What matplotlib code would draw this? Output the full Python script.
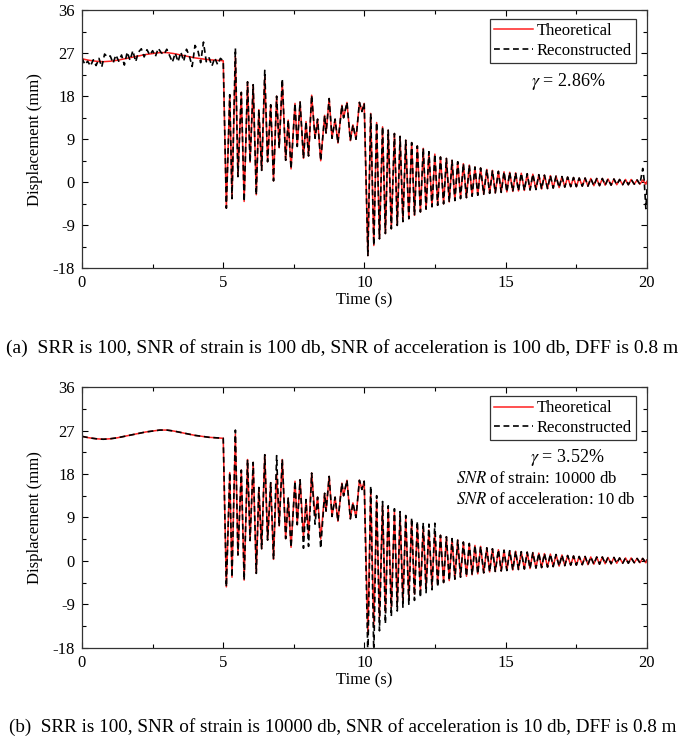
import numpy as np
import matplotlib
matplotlib.use("Agg")
import matplotlib.pyplot as plt

plt.rcParams['font.family'] = ['Liberation Serif', 'DejaVu Serif']
plt.rcParams['mathtext.fontset'] = 'stix'
plt.rcParams['axes.unicode_minus'] = False

# ---- theoretical displacement (same in both cases) ----
# quasi-static part 0-5 s
t_static = [0.00, 0.25, 0.50, 0.75, 1.00, 1.25, 1.50, 1.75, 2.00, 2.25, 2.50,
            2.75, 3.00, 3.25, 3.50, 3.75, 4.00, 4.25, 4.50, 4.75]
d_static = [25.8, 25.5, 25.3, 25.2, 25.3, 25.5, 25.8, 26.1, 26.4, 26.7, 26.9,
            27.1, 27.1, 26.9, 26.6, 26.3, 26.0, 25.8, 25.6, 25.5]

# forced vibration part 5-10 s (peaks / troughs)
t_forced = [5.00, 5.11, 5.23, 5.31, 5.43, 5.52, 5.64, 5.74, 5.86, 5.95,
            6.06, 6.17, 6.26, 6.36, 6.47, 6.57, 6.68, 6.78, 6.89, 6.98,
            7.09, 7.21, 7.30, 7.40, 7.54, 7.62, 7.72, 7.84, 7.93, 8.02,
            8.13, 8.25, 8.34, 8.45, 8.59, 8.64, 8.75, 8.85, 8.96, 9.06,
            9.20, 9.26, 9.38, 9.50, 9.59, 9.70, 9.82, 9.91, 9.99]
d_forced = [25.4, -5.4, 18.3, -3.4, 26.3, 1.2, 18.8, -4.0, 21.0, 4.2,
            20.4, -2.6, 15.2, 2.5, 22.0, 4.3, 16.2, 0.3, 18.0, 7.2,
            21.0, 4.6, 13.0, 2.8, 16.5, 7.5, 16.8, 5.0, 12.7, 5.5,
            18.2, 9.2, 13.2, 4.5, 14.0, 10.3, 17.5, 9.2, 13.2, 8.2,
            16.1, 13.5, 16.7, 8.7, 12.0, 9.0, 16.7, 14.8, 16.5]

# free vibration part 10-20 s (peaks / troughs)
t_free = [10.12, 10.22, 10.33, 10.43, 10.53, 10.64, 10.74, 10.84, 10.95, 11.06,
          11.16, 11.26, 11.36, 11.46, 11.57, 11.67, 11.77, 11.87, 11.98, 12.08,
          12.18, 12.28, 12.39, 12.49, 12.59, 12.69, 12.80, 12.90, 13.00, 13.10,
          13.20, 13.30, 13.40, 13.50, 13.61, 13.71, 13.81, 13.91, 14.01, 14.11,
          14.22, 14.33, 14.43, 14.53, 14.63, 14.74, 14.84, 14.94, 15.04, 15.14,
          15.25, 15.35, 15.45, 15.55, 15.66, 15.76, 15.86, 15.96, 16.07, 16.17,
          16.27, 16.37, 16.48, 16.58, 16.68, 16.78, 16.89, 16.99, 17.09, 17.19,
          17.30, 17.40, 17.50, 17.60, 17.71, 17.81, 17.91, 18.01, 18.12, 18.22,
          18.32, 18.42, 18.52, 18.62, 18.73, 18.83, 18.93, 19.03, 19.14, 19.24,
          19.34, 19.44, 19.55, 19.65, 19.75, 19.85, 19.96, 20.00]
d_free = [-15.3, 14.4, -13.2, 12.5, -11.8, 11.6, -10.7, 10.9, -9.7, 10.2,
          -9.0, 9.6, -8.2, 8.8, -7.6, 8.3, -6.9, 7.6, -6.2, 7.1,
          -5.6, 6.4, -5.1, 5.9, -4.8, 5.3, -4.5, 5.0, -4.1, 4.6,
          -3.8, 4.3, -3.4, 3.9, -3.2, 3.6, -2.9, 3.2, -2.7, 3.0,
          -2.5, 2.7, -2.3, 2.5, -2.2, 2.3, -2.1, 2.2, -2.0, 2.1,
          -1.9, 2.0, -1.8, 1.9, -1.7, 1.8, -1.6, 1.7, -1.5, 1.6,
          -1.4, 1.5, -1.3, 1.4, -1.2, 1.3, -1.1, 1.2, -1.0, 1.1,
          -0.9, 1.0, -0.9, 0.9, -0.8, 0.9, -0.8, 0.8, -0.7, 0.8,
          -0.7, 0.8, -0.6, 0.7, -0.6, 0.7, -0.5, 0.6, -0.5, 0.6,
          -0.5, 0.6, -0.4, 0.5, -0.4, 0.5, -0.4, 0.2]

# ---- case (a): reconstructed with noisy static part ----
t_noisy_a = [0.0, 0.1, 0.2, 0.3, 0.4, 0.5, 0.6, 0.7, 0.8, 0.9,
             1.0, 1.1, 1.2, 1.3, 1.4, 1.5, 1.6, 1.7, 1.8, 1.9,
             2.0, 2.1, 2.2, 2.3, 2.4, 2.5, 2.6, 2.7, 2.8, 2.9,
             3.0, 3.1, 3.2, 3.3, 3.4, 3.5, 3.6, 3.7, 3.8, 3.9,
             4.0, 4.1, 4.2, 4.3, 4.4, 4.5, 4.6, 4.7, 4.8, 4.9]
d_noisy_a = [26.0, 24.6, 25.3, 24.3, 25.6, 24.4, 25.9, 24.1, 26.8, 26.2,
             26.4, 24.9, 26.6, 25.3, 26.6, 24.5, 27.2, 25.5, 27.5, 25.2,
             27.2, 27.9, 26.2, 27.7, 26.6, 27.5, 26.3, 28.0, 27.1, 26.7,
             27.8, 26.5, 25.1, 27.0, 25.2, 27.2, 25.3, 27.8, 26.4, 24.2,
             28.6, 27.6, 25.0, 29.3, 25.2, 26.0, 24.3, 26.0, 24.6, 25.9]
# peaks where case (a) departs from theory in 5-10 s
fix_a = {5.43: 28.0, 6.47: 23.4, 7.09: 21.6}
# end effect at 20 s
t_end_a = [19.75, 19.85, 19.90, 19.96, 20.00]
d_end_a = [-0.4, 2.9, 0.5, -5.5, -1.2]

# ---- case (b): reconstructed deviates around 8-12.6 s ----
fix_b = {5.43: 27.1, 6.89: 21.8, 7.84: 2.6, 8.02: 3.0, 8.25: 7.6, 8.45: 2.6,
         10.12: -20.0, 10.22: 15.5, 10.33: -19.5, 10.43: 13.5, 10.53: -14.5,
         10.64: 12.3, 10.74: -13.0, 10.84: 11.4, 10.95: -11.5, 11.06: 10.8,
         11.16: -10.4, 11.26: 10.2, 11.36: -9.6, 11.46: 9.4, 11.57: -9.0,
         11.67: 8.9, 11.77: -8.2, 11.87: 8.2, 11.98: -7.6, 12.08: 7.9,
         12.18: -6.6, 12.28: 7.6, 12.39: -6.0, 12.49: 7.8, 12.59: -5.4}

gamma_a = '2.86%'
gamma_b = '3.52%'
caption_a = '(a)  SRR is 100, SNR of strain is 100 db, SNR of acceleration is 100 db, DFF is 0.8 m'
caption_b = '(b)  SRR is 100, SNR of strain is 10000 db, SNR of acceleration is 10 db, DFF is 0.8 m'

t_theo = np.array(t_static + t_forced + t_free)
d_theo = np.array(d_static + d_forced + d_free)

# assemble reconstructed series
keep = (t_theo >= 5.0) & (t_theo < 19.75)
t_rec_a = np.concatenate([t_noisy_a, t_theo[keep], t_end_a])
d_rec_a = np.concatenate([d_noisy_a, [fix_a.get(t, d) for t, d in zip(t_theo[keep], d_theo[keep])], d_end_a])

t_rec_b = t_theo.copy()
d_rec_b = np.array([fix_b.get(t, d) for t, d in zip(t_theo, d_theo)])

fig = plt.figure(figsize=(6.85, 7.36), dpi=100)
ax_a = fig.add_axes([0.1197, 0.6352, 0.8248, 0.3512])
ax_b = fig.add_axes([0.1197, 0.1200, 0.8248, 0.3540])


def style_axis(ax):
    ax.set_xlim(0, 20)
    ax.set_ylim(-18, 36)
    ax.set_xticks([0, 5, 10, 15, 20])
    ax.set_xticks([2.5, 7.5, 12.5, 17.5], minor=True)
    ax.set_yticks([-18, -9, 0, 9, 18, 27, 36])
    ax.set_yticks([-13.5, -4.5, 4.5, 13.5, 22.5, 31.5], minor=True)
    ax.tick_params(which='both', direction='in', top=True, right=True, labelsize=12)
    ax.tick_params(which='major', length=4, width=0.8, pad=5)
    ax.tick_params(which='minor', length=3, width=0.8)
    for s in ax.spines.values():
        s.set_linewidth(0.9)
        s.set_color('#333333')
    ax.set_xlabel('Time (s)', fontsize=12, labelpad=1)
    ax.set_ylabel('Displacement (mm)', fontsize=12, labelpad=7)


for ax, tr, dr in [(ax_a, t_rec_a, d_rec_a), (ax_b, t_rec_b, d_rec_b)]:
    ax.plot(t_theo, d_theo, color='#ff2020', lw=1.1, label='Theoretical')
    ax.plot(tr, dr, color='black', lw=1.2, ls=(0, (3.5, 2.2)), label='Reconstructed')
    style_axis(ax)
    leg = ax.legend(loc='upper right', bbox_to_anchor=(0.9805, 0.965), borderaxespad=0,
                    fontsize=12, frameon=True, fancybox=False, handlelength=2.3,
                    handletextpad=0.25, borderpad=0.25, labelspacing=0.2)
    leg.get_frame().set_edgecolor('black')
    leg.get_frame().set_linewidth(0.9)

ax_a.text(0.86, 0.725, r'$\gamma$ = ' + gamma_a, transform=ax_a.transAxes,
          ha='center', va='center', fontsize=13)
ax_b.text(0.858, 0.73, r'$\gamma$ = ' + gamma_b, transform=ax_b.transAxes,
          ha='center', va='center', fontsize=13)
ax_b.text(0.662, 0.649, r'$SNR$ of strain: 10000 db', transform=ax_b.transAxes,
          ha='left', va='center', fontsize=12)
ax_b.text(0.662, 0.568, r'$SNR$ of acceleration: 10 db', transform=ax_b.transAxes,
          ha='left', va='center', fontsize=12)

fig.text(0.5, 1 - 348 / 736, caption_a, ha='center', va='center', fontsize=14)
fig.text(0.5, 1 - 727 / 736, caption_b, ha='center', va='center', fontsize=13.8)

fig.savefig('out.png', dpi=100)
